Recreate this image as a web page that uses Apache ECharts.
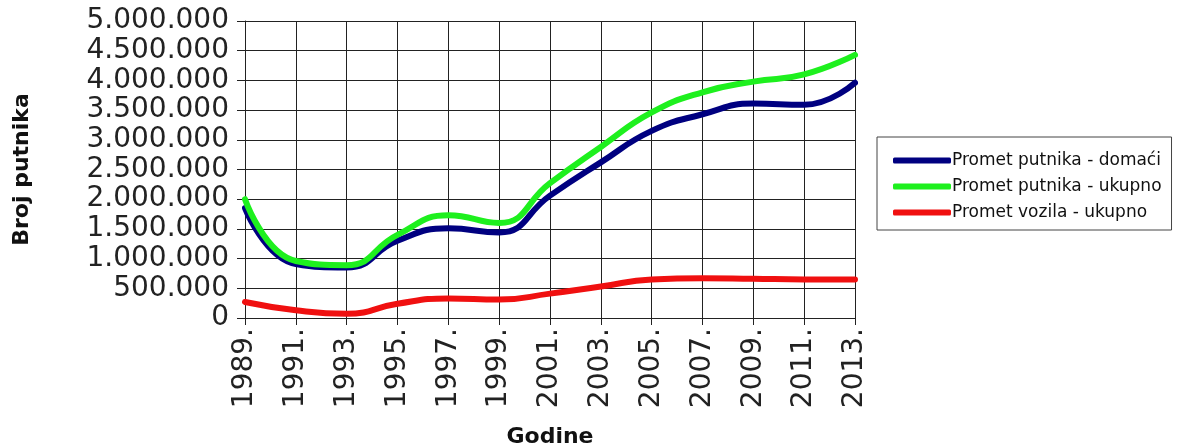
<!DOCTYPE html>
<html>
<head>
<meta charset="utf-8">
<script src="https://cdn.jsdelivr.net/npm/echarts@6/dist/echarts.min.js"></script>
<style>
  html, body { margin: 0; padding: 0; background: #fff; }
  #chart { width: 1181px; height: 447px; }
</style>
</head>
<body>
<div id="chart"></div>
<script>
  // godine (svaka druga)
  var years = ['1989.', '1991.', '1993.', '1995.', '1997.', '1999.', '2001.',
    '2003.', '2005.', '2007.', '2009.', '2011.', '2013.']
  var prometDomaci = [1850000, 910000, 850000, 1300000, 1510000, 1440000, 2060000,
    2620000, 3150000, 3430000, 3610000, 3590000, 3960000]
  var prometUkupno = [2000000, 960000, 890000, 1400000, 1730000, 1600000, 2270000,
    2880000, 3460000, 3800000, 3980000, 4100000, 4430000]
  var vozilaUkupno = [270000, 130000, 70000, 240000, 330000, 310000, 410000,
    530000, 650000, 670000, 660000, 650000, 650000]

  var font = '"DejaVu Sans", "Open Sans", sans-serif'

  function fmt(v) {
    return String(v).replace(/\B(?=(\d{3})+(?!\d))/g, '.')
  }

  function line(name, data, color) {
    return {
      name: name,
      type: 'line',
      data: data,
      smooth: 0.5,
      showSymbol: false,
      symbol: 'none',
      lineStyle: { color: color, width: 6, cap: 'round' },
      itemStyle: { color: color }
    }
  }

  var chart = echarts.init(document.getElementById('chart'))
  chart.setOption({
    animation: false,
    grid: {
      left: 245, right: 326, top: 21, bottom: 129,
      containLabel: false,
      outerBoundsMode: 'none'
    },
    legend: {
      orient: 'vertical',
      left: 877,
      top: 137,
      padding: [15, 10, 9, 16],
      borderColor: '#444',
      borderWidth: 1,
      itemGap: 9,
      itemWidth: 58,
      itemHeight: 6,
      icon: 'roundRect',
      textStyle: { fontFamily: font, fontSize: 17, color: '#111', padding: [0, 0, 0, -4] },
      data: ['Promet putnika - domaći', 'Promet putnika - ukupno', 'Promet vozila - ukupno']
    },
    xAxis: {
      type: 'category',
      data: years,
      boundaryGap: false,
      name: 'Godine',
      nameLocation: 'middle',
      nameGap: 108,
      nameTextStyle: { fontFamily: font, fontSize: 22, fontWeight: 'bold', color: '#111' },
      axisLine: { lineStyle: { color: '#222', width: 1 } },
      axisTick: { show: true, length: 7, alignWithLabel: true, lineStyle: { color: '#222' } },
      axisLabel: {
        rotate: 90,
        margin: 10,
        interval: 0,
        fontFamily: font,
        fontSize: 28,
        color: '#222'
      },
      splitLine: { show: true, lineStyle: { color: '#222', width: 1 } }
    },
    yAxis: {
      type: 'value',
      min: 0,
      max: 5000000,
      interval: 500000,
      name: 'Broj putnika',
      nameLocation: 'middle',
      nameRotate: 90,
      nameGap: 212,
      nameTextStyle: { fontFamily: font, fontSize: 22, fontWeight: 'bold', color: '#111' },
      axisLine: { show: true, lineStyle: { color: '#222', width: 1 } },
      axisTick: { show: true, length: 8, lineStyle: { color: '#222' } },
      axisLabel: {
        margin: 16,
        fontFamily: font,
        fontSize: 28,
        color: '#222',
        formatter: fmt
      },
      splitLine: { show: true, lineStyle: { color: '#222', width: 1 } }
    },
    series: [
      line('Promet putnika - domaći', prometDomaci, '#000080'),
      line('Promet putnika - ukupno', prometUkupno, '#1ef01e'),
      line('Promet vozila - ukupno', vozilaUkupno, '#f01010')
    ]
  })
</script>
</body>
</html>
